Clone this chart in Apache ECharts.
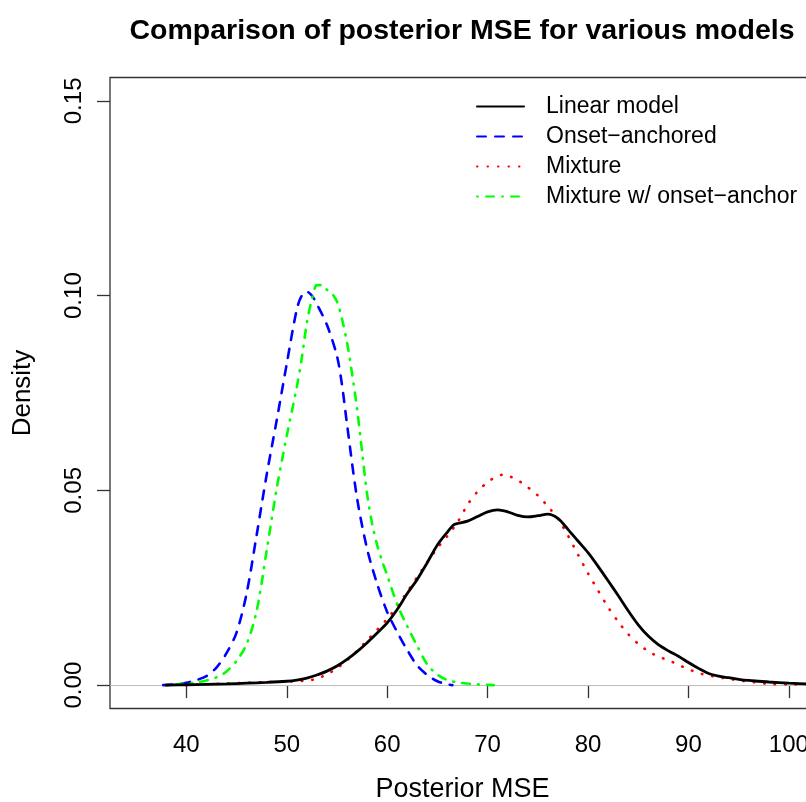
<!DOCTYPE html>
<html>
<head>
<meta charset="utf-8">
<script src="https://cdn.jsdelivr.net/npm/echarts@6/dist/echarts.min.js"></script>
<style>
html,body{margin:0;padding:0;background:#fff;}
#chart{width:806px;height:802px;}
</style>
</head>
<body>
<div id="chart"></div>
<script>
// ---- data ----
var seriesNames = ['Linear model', 'Onset\u2212anchored', 'Mixture', 'Mixture w/ onset\u2212anchor'];
var xTicks = [40, 50, 60, 70, 80, 90, 100];
var yTicks = [0, 0.05, 0.10, 0.15];

var linearX = [38, 40, 42, 44, 46, 48, 50, 51, 52, 53, 54, 55, 56, 57, 58, 59, 60, 61, 62, 63, 64, 65, 66, 66.6, 67, 68, 69, 70, 71, 72, 73, 74, 75, 76, 77, 78, 79, 80, 81, 82, 83, 84, 85, 86, 87, 88, 89, 90, 91, 92, 93, 94, 95, 96, 97, 98, 100, 102, 104];
var linearY = [0, 0.0001, 0.0002, 0.0003, 0.0005, 0.0007, 0.0010, 0.0013, 0.0018, 0.0026, 0.0036, 0.0049, 0.0066, 0.0086, 0.0109, 0.0134, 0.0160, 0.0194, 0.0235, 0.0272, 0.0315, 0.0360, 0.0393, 0.0411, 0.0415, 0.0421, 0.0433, 0.0445, 0.0450, 0.0445, 0.0436, 0.0432, 0.0435, 0.0439, 0.0428, 0.0400, 0.0370, 0.0340, 0.0305, 0.0268, 0.0230, 0.0191, 0.0155, 0.0126, 0.0104, 0.0088, 0.0074, 0.0058, 0.0043, 0.0030, 0.0023, 0.0019, 0.0015, 0.0012, 0.0010, 0.0008, 0.0005, 0.0003, 0.0002];

var onsetX = [37.7, 39, 40, 41, 42, 43, 44, 45, 46, 47, 48, 49, 50, 51, 51.5, 52, 52.5, 53, 54, 55, 55.5, 56, 57, 58, 59, 60, 61, 62, 63, 64, 65, 66, 66.5];
var onsetY = [0, 0.0002, 0.0006, 0.0013, 0.0023, 0.0045, 0.0082, 0.0135, 0.0235, 0.0385, 0.0540, 0.0680, 0.0825, 0.0965, 0.1000, 0.1010, 0.1000, 0.0978, 0.0925, 0.0845, 0.0771, 0.0670, 0.0480, 0.0350, 0.0260, 0.0188, 0.0136, 0.0090, 0.0050, 0.0026, 0.0010, 0.0002, 0];

var mixtureX = [40, 41, 42, 44, 46, 48, 50, 51, 52, 53, 54, 55, 56, 57, 58, 59, 60, 61, 62, 63, 64, 65, 66, 67, 68, 69, 70, 71, 71.5, 72, 73, 74, 75, 76, 77, 78, 79, 80, 81, 82, 83, 84, 85, 86, 87, 88, 89, 90, 91, 92, 93, 94, 95, 96, 97, 98, 100, 102, 104];
var mixtureY = [0, 0.0001, 0.0002, 0.0004, 0.0006, 0.0008, 0.0009, 0.0010, 0.0012, 0.0016, 0.0028, 0.0043, 0.0064, 0.0088, 0.0115, 0.0142, 0.0170, 0.0203, 0.0240, 0.0278, 0.0316, 0.0352, 0.0383, 0.0418, 0.0463, 0.0497, 0.0521, 0.0537, 0.0540, 0.0538, 0.0526, 0.0508, 0.0487, 0.0459, 0.0427, 0.0384, 0.0335, 0.0287, 0.0243, 0.0200, 0.0163, 0.0131, 0.0106, 0.0087, 0.0073, 0.0064, 0.0052, 0.0041, 0.0031, 0.0025, 0.0020, 0.0016, 0.0012, 0.0009, 0.0006, 0.0003, 0.0002, 0.0002, 0.0001];

var mixAnchorX = [38, 39, 40, 41, 42, 43, 44, 45, 46, 47, 48, 49, 50, 51, 51.5, 52, 52.5, 53, 53.5, 54, 54.5, 55, 55.5, 56, 56.5, 57, 57.5, 58, 58.5, 59, 59.5, 60, 61, 62, 63, 64, 65, 66, 67, 68, 69, 70.6];
var mixAnchorY = [0, 0.0002, 0.0004, 0.0007, 0.0012, 0.0020, 0.0035, 0.0062, 0.0105, 0.0190, 0.0345, 0.0505, 0.0640, 0.0765, 0.0840, 0.0930, 0.0990, 0.1027, 0.1027, 0.1015, 0.1005, 0.0985, 0.0940, 0.0880, 0.0800, 0.0710, 0.0600, 0.0490, 0.0415, 0.0360, 0.0318, 0.0282, 0.0207, 0.0151, 0.0100, 0.0053, 0.0027, 0.0013, 0.0007, 0.0004, 0.0002, 0];

function pairs(xs, ys) { return xs.map(function (x, i) { return [x, ys[i]]; }); }

var FONT = '"Liberation Sans", Arial, Helvetica, sans-serif';
var chart = echarts.init(document.getElementById('chart'), null, {renderer: 'canvas'});

var xMin = 32.4, xMax = 102.6, yMin = -0.006, yMax = 0.156;

var option = {
  backgroundColor: '#ffffff',
  animation: false,
  title: {
    text: 'Comparison of posterior MSE for various models',
    left: 457, textAlign: 'center', top: 12,
    textStyle: {fontFamily: FONT, fontSize: 28.5, fontWeight: 'bold', color: '#000'}
  },
  legend: {
    data: seriesNames,
    orient: 'vertical',
    left: 476, top: 95,
    padding: 0,
    itemWidth: 47, itemHeight: 14, itemGap: 7,
    itemStyle: {opacity: 0},
    lineStyle: {opacity: 1},
    textStyle: {fontFamily: FONT, fontSize: 23, color: '#000', padding: [0, 0, 0, 17]}
  },
  grid: {
    left: 110, top: 77.5, width: 705, height: 631,
    outerBoundsMode: 'none',
    show: true, borderColor: '#333', borderWidth: 1.3, backgroundColor: 'transparent',
    containLabel: false
  },
  xAxis: {
    type: 'value', min: xMin, max: xMax,
    name: 'Posterior MSE', nameLocation: 'middle', nameGap: 68,
    nameTextStyle: {fontFamily: FONT, fontSize: 27, color: '#000'},
    axisLine: {show: false},
    axisTick: {show: true, inside: false, length: 13, customValues: xTicks, lineStyle: {color: '#333', width: 1.3}},
    axisLabel: {customValues: xTicks, fontFamily: FONT, fontSize: 24, color: '#000', margin: 25},
    splitLine: {show: false}
  },
  yAxis: {
    type: 'value', min: yMin, max: yMax,
    name: 'Density', nameLocation: 'middle', nameGap: 74, nameRotate: 90,
    nameTextStyle: {fontFamily: FONT, fontSize: 26, color: '#000'},
    axisLine: {show: false},
    axisTick: {show: true, inside: false, length: 13, customValues: yTicks, lineStyle: {color: '#333', width: 1.3}},
    axisLabel: {customValues: yTicks, rotate: 90, fontFamily: FONT, fontSize: 24, color: '#000', margin: 24,
      formatter: function (v) { return v.toFixed(2); }},
    splitLine: {show: false}
  },
  series: [
    {
      name: seriesNames[0], type: 'line', data: pairs(linearX, linearY),
      symbol: 'none', smooth: 0.3, z: 5,
      lineStyle: {color: '#000000', width: 2.8, type: 'solid', cap: 'round'},
      itemStyle: {color: '#000000'},
      markLine: {
        silent: true, symbol: 'none', z: 1,
        label: {show: false},
        lineStyle: {color: '#bebebe', width: 1.2, type: 'solid'},
        data: [{yAxis: 0}]
      }
    },
    {
      name: seriesNames[1], type: 'line', data: pairs(onsetX, onsetY),
      symbol: 'none', smooth: 0.3, z: 4,
      lineStyle: {color: '#0000ff', width: 2.6, type: [9, 9], cap: 'round'},
      itemStyle: {color: '#0000ff'}
    },
    {
      name: seriesNames[2], type: 'line', data: pairs(mixtureX, mixtureY),
      symbol: 'none', smooth: 0.3, z: 4,
      lineStyle: {color: '#ff0000', width: 2.6, type: [0.5, 10], cap: 'round'},
      itemStyle: {color: '#ff0000'}
    },
    {
      name: seriesNames[3], type: 'line', data: pairs(mixAnchorX, mixAnchorY),
      symbol: 'none', smooth: 0.3, z: 4,
      lineStyle: {color: '#00ff00', width: 2.6, type: [1, 8, 8, 8], cap: 'round'},
      itemStyle: {color: '#00ff00'}
    }
  ]
};
chart.setOption(option);
</script>
</body>
</html>
